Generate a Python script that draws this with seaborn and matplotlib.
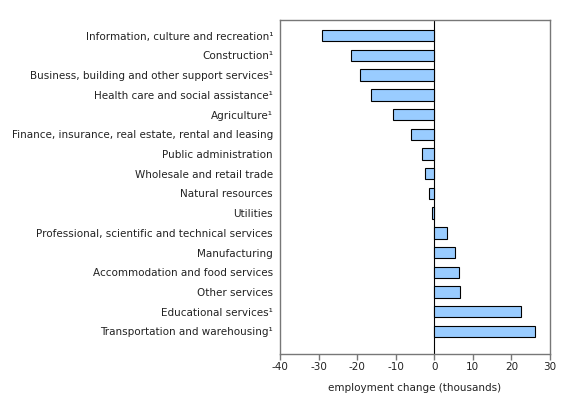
import matplotlib
matplotlib.use("Agg")
import matplotlib.pyplot as plt
import seaborn as sns
import pandas as pd

categories = [
    "Information, culture and recreation¹",
    "Construction¹",
    "Business, building and other support services¹",
    "Health care and social assistance¹",
    "Agriculture¹",
    "Finance, insurance, real estate, rental and leasing",
    "Public administration",
    "Wholesale and retail trade",
    "Natural resources",
    "Utilities",
    "Professional, scientific and technical services",
    "Manufacturing",
    "Accommodation and food services",
    "Other services",
    "Educational services¹",
    "Transportation and warehousing¹",
]
values = [-29.1, -21.6, -19.2, -16.5, -10.7, -6.0, -3.3, -2.5, -1.4, -0.5,
          3.3, 5.4, 6.5, 6.7, 22.5, 26.2]
xticks = [-40, -30, -20, -10, 0, 10, 20, 30]

df = pd.DataFrame({"industry": categories, "change": values})

sns.set_theme(style="white")
plt.rcParams["font.family"] = ["DejaVu Sans"]

fig = plt.figure(figsize=(5.8, 3.95), dpi=100)
ax = fig.add_axes([0.4828, 0.1038, 0.4655, 0.8456])

sns.barplot(data=df, x="change", y="industry", orient="h", color="#99ccff",
            saturation=1, edgecolor="black", linewidth=0.8, width=0.58, ax=ax)

ax.axvline(0, color="black", linewidth=0.8, zorder=0.5)
ax.set_xlim(-40, 30)
ax.set_ylim(16.15, -0.8)
ax.set_xticks(xticks)
ax.set_xticklabels([str(t) for t in xticks], fontsize=7.5, color="#222222")
ax.tick_params(axis="x", direction="out", length=4, width=1, color="#777777",
               bottom=True, pad=2)
ax.tick_params(axis="y", length=0, labelsize=7.5, labelcolor="#222222", pad=5)
for s in ax.spines.values():
    s.set_color("#777777")
    s.set_linewidth(1)
ax.set_ylabel("")
ax.set_xlabel("employment change (thousands)", fontsize=7.5, color="#222222", labelpad=8)

fig.savefig("out.png", dpi=100)
